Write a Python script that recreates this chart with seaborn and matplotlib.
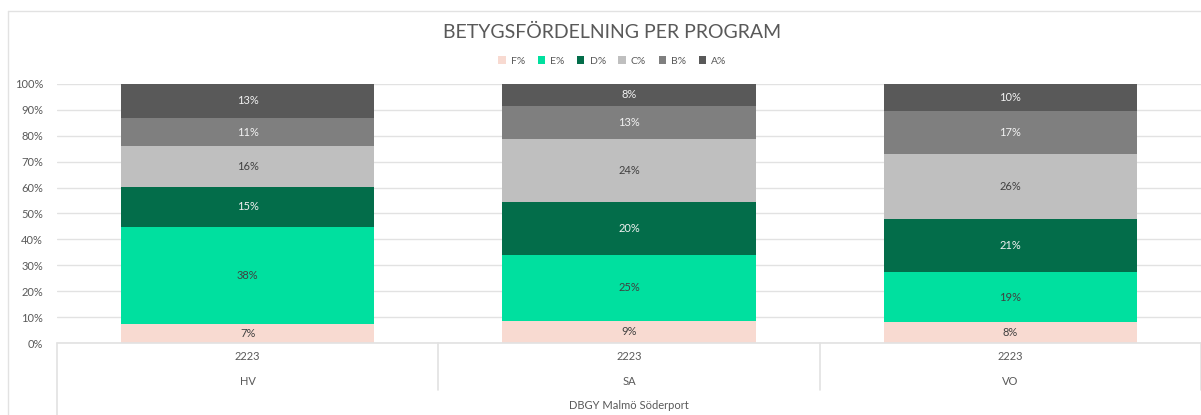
import matplotlib
matplotlib.use('Agg')
import matplotlib.pyplot as plt
import seaborn as sns
import numpy as np
from matplotlib.patches import Patch
from matplotlib.lines import Line2D

sns.set_style('white')
plt.rcParams['font.family'] = ['Lato', 'DejaVu Sans']

programs = ['HV', 'SA', 'VO']
years = ['2223', '2223', '2223']
school = 'DBGY Malmö Söderport'
grades = ['F%', 'E%', 'D%', 'C%', 'B%', 'A%']
f_pct = [7.3, 8.6, 8.1]
e_pct = [37.6, 25.4, 19.3]
d_pct = [15.3, 20.3, 20.6]
c_pct = [15.8, 24.4, 25.6]
b_pct = [10.9, 12.7, 16.6]
a_pct = [13.1, 8.4, 10.4]

colors = ['#f8dad1', '#00e09f', '#036d4a', '#bfbfbf', '#7f7f7f', '#595959']
text_colors = ['#404040', '#404040', '#f2f2f2', '#404040', '#f2f2f2', '#f2f2f2']
gray = '#595959'
line_gray = '#e2e2e2'

series = np.array([f_pct, e_pct, d_pct, c_pct, b_pct, a_pct])
shares = series / series.sum(axis=0)  # 100% stacked
tops = np.cumsum(shares, axis=0)

fig = plt.figure(figsize=(12.01, 4.15), dpi=100)
ax = fig.add_axes([57 / 1201, 1 - 343 / 415, 1 - 57 / 1201, 259 / 415])

# draw from the top layer down so each segment covers the one above it
for i in range(len(grades) - 1, -1, -1):
    sns.barplot(x=programs, y=tops[i], color=colors[i], width=0.664,
                saturation=1, ax=ax, linewidth=0)

for j in range(len(programs)):
    for i in range(len(grades)):
        mid = tops[i, j] - shares[i, j] / 2
        ax.text(j, mid, f'{series[i, j]:.0f}%', ha='center', va='center',
                fontsize=8, color=text_colors[i])

ax.set_ylim(0, 1)
ax.set_xlim(-0.5, 2.5)
ax.set_yticks(np.arange(0, 1.01, 0.1))
ax.set_yticklabels([f'{int(round(t * 100))}%' for t in np.arange(0, 1.01, 0.1)],
                   fontsize=8, color=gray)
ax.tick_params(axis='y', length=0, pad=10)
ax.set_xticks([])
ax.set_xlabel('')
ax.set_ylabel('')
ax.yaxis.grid(True, color=line_gray, linewidth=1)
ax.set_axisbelow(True)
for s in ax.spines.values():
    s.set_visible(False)

# category table below the plot
tr = ax.transAxes
kw = dict(color=line_gray, linewidth=1.2, transform=tr, clip_on=False)
ax.add_line(Line2D([0, 1], [0, 0], **kw))
ax.add_line(Line2D([0, 0], [0, -0.28], **kw))
for k in range(1, 4):
    ax.add_line(Line2D([k / 3, k / 3], [0, -0.181], **kw))
for j in range(len(programs)):
    ax.text(j, -0.054, years[j], ha='center', va='center', fontsize=8,
            color=gray, transform=ax.get_xaxis_transform())
    ax.text(j, -0.147, programs[j], ha='center', va='center', fontsize=8,
            color=gray, transform=ax.get_xaxis_transform())
ax.text(0.5, -0.243, school, ha='center', va='center', fontsize=8,
        color=gray, transform=tr)

# outer chart border
fig.add_artist(Line2D([8 / 1201, 8 / 1201], [0, 1 - 11 / 415], color=line_gray,
                      linewidth=1, transform=fig.transFigure))
fig.add_artist(Line2D([8 / 1201, 1], [1 - 11 / 415, 1 - 11 / 415], color=line_gray,
                      linewidth=1, transform=fig.transFigure))

fig.text(0.51, 1 - 32 / 415, 'BETYGSFÖRDELNING PER PROGRAM', ha='center',
         va='center', fontsize=14, color=gray)

handles = [Patch(facecolor=c, edgecolor='none') for c in colors]
fig.legend(handles, grades, loc='center', bbox_to_anchor=(0.51, 1 - 61 / 415),
           ncol=6, frameon=False, fontsize=7.5, handlelength=0.7,
           handleheight=0.7, handletextpad=0.5, columnspacing=1.2,
           labelcolor=gray)

fig.savefig('out.png', dpi=100, facecolor='white')
